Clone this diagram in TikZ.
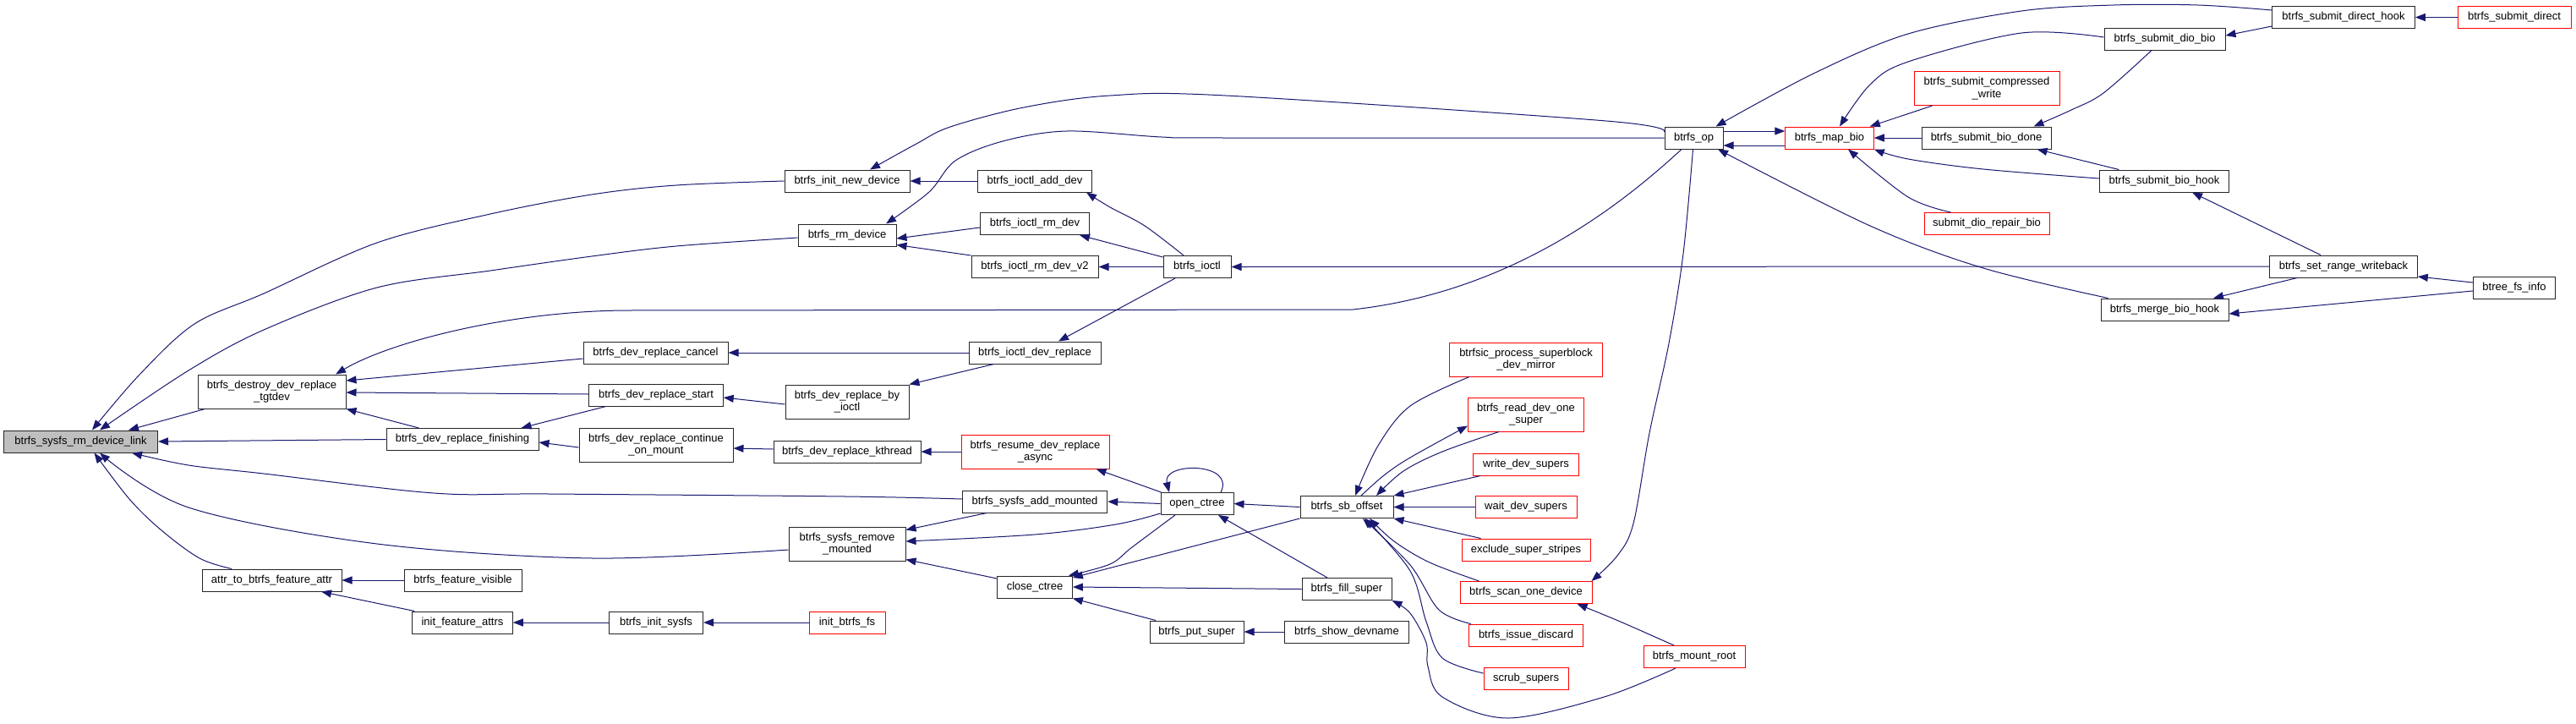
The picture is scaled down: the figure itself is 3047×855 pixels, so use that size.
\documentclass[tikz,border=0pt]{standalone}
\usepackage{fontspec}
\setmainfont{Liberation Sans}
\usetikzlibrary{arrows.meta}
\definecolor{edgeblue}{HTML}{191970}
\newcommand\dfont{\fontsize{13}{14.5}\selectfont}
\tikzset{
  fn/.style={draw=black!85, line width=1pt, inner sep=0pt, font=\dfont, align=center, fill=white},
  trunc/.style={fn, draw=red},
  mainfn/.style={fn, fill=black!25},
  e/.style={draw=edgeblue, line width=1pt, -{Triangle[length=12pt,width=9pt]}},
  sm/.style={smooth, tension=0.55},
}
\newcommand\fnode[7]{\node[#1, minimum width=#5pt, minimum height=#6pt] (#2) at (#3,#4) {#7};}
\begin{document}
\begin{tikzpicture}[x=1pt,y=-1pt]
\useasboundingbox (0,0) rectangle (3047,855);
\fill[white] (0,0) rectangle (3047,855);
% nodes
\fnode{mainfn}{M}{95.5}{522}{182}{26}{btrfs\_sysfs\_rm\_device\_link}
\fnode{fn}{D}{321.5}{463}{175}{40}{btrfs\_destroy\_dev\_replace\\\_tgtdev}
\fnode{fn}{F}{547}{519.5}{180}{26}{btrfs\_dev\_replace\_finishing}
\fnode{fn}{ATF}{321.5}{686}{165}{26}{attr\_to\_btrfs\_feature\_attr}
\fnode{fn}{FV}{547.5}{686}{139}{26}{btrfs\_feature\_visible}
\fnode{fn}{IFA}{547}{736}{118.5}{26}{init\_feature\_attrs}
\fnode{fn}{DRC}{775.5}{417}{171}{26}{btrfs\_dev\_replace\_cancel}
\fnode{fn}{DRS}{776}{467}{158.5}{26}{btrfs\_dev\_replace\_start}
\fnode{fn}{DRCM}{776}{526}{182}{40}{btrfs\_dev\_replace\_continue\\\_on\_mount}
\fnode{fn}{IS}{776}{736}{111}{26}{btrfs\_init\_sysfs}
\fnode{fn}{IND}{1002}{214}{148}{26}{btrfs\_init\_new\_device}
\fnode{fn}{RMD}{1002}{278}{116}{26}{btrfs\_rm\_device}
\fnode{fn}{DRBI}{1002}{475}{146}{40}{btrfs\_dev\_replace\_by\\\_ioctl}
\fnode{fn}{DRK}{1002}{534}{174}{26}{btrfs\_dev\_replace\_kthread}
\fnode{fn}{SRM}{1002}{643}{138}{40}{btrfs\_sysfs\_remove\\\_mounted}
\fnode{trunc}{IBF}{1002}{736}{90}{26}{init\_btrfs\_fs}
\fnode{fn}{IAD}{1224}{214}{135}{26}{btrfs\_ioctl\_add\_dev}
\fnode{fn}{IRD}{1224}{264.5}{129}{26}{btrfs\_ioctl\_rm\_dev}
\fnode{fn}{IRD2}{1224}{315.5}{150}{26}{btrfs\_ioctl\_rm\_dev\_v2}
\fnode{fn}{IDR}{1224}{417}{156}{26}{btrfs\_ioctl\_dev\_replace}
\fnode{trunc}{RDRA}{1224.5}{534}{175}{40}{btrfs\_resume\_dev\_replace\\\_async}
\fnode{fn}{SAM}{1224}{593}{171.5}{26}{btrfs\_sysfs\_add\_mounted}
\fnode{fn}{CC}{1224}{694}{88.7}{26}{close\_ctree}
\fnode{fn}{IOC}{1416}{315.5}{80}{26}{btrfs\_ioctl}
\fnode{fn}{OC}{1416}{595.5}{86}{26}{open\_ctree}
\fnode{fn}{PS}{1415.5}{747}{111}{26}{btrfs\_put\_super}
\fnode{fn}{SBO}{1593}{599.5}{110}{26}{btrfs\_sb\_offset}
\fnode{fn}{FS}{1593}{696.5}{106}{26}{btrfs\_fill\_super}
\fnode{fn}{SD}{1593}{747}{147}{26}{btrfs\_show\_devname}
\fnode{trunc}{PSB}{1805}{425}{181}{40}{btrfsic\_process\_superblock\\\_dev\_mirror}
\fnode{trunc}{RDOS}{1805}{490}{137}{40}{btrfs\_read\_dev\_one\\\_super}
\fnode{trunc}{WDS}{1805}{549}{124.6}{26}{write\_dev\_supers}
\fnode{trunc}{WTDS}{1805}{599.5}{120}{26}{wait\_dev\_supers}
\fnode{trunc}{ESS}{1805}{650}{152}{26}{exclude\_super\_stripes}
\fnode{trunc}{SOD}{1805}{700.5}{156}{26}{btrfs\_scan\_one\_device}
\fnode{trunc}{IDI}{1805}{751}{135.5}{26}{btrfs\_issue\_discard}
\fnode{trunc}{SCS}{1805}{802}{100}{26}{scrub\_supers}
\fnode{trunc}{MR}{2004}{776.5}{120}{26}{btrfs\_mount\_root}
\fnode{fn}{OP}{2003.5}{163}{69}{26}{btrfs\_op}
\fnode{trunc}{MB}{2164}{163}{104.5}{26}{btrfs\_map\_bio}
\fnode{trunc}{SCW}{2350}{104.5}{172}{40}{btrfs\_submit\_compressed\\\_write}
\fnode{fn}{SBD}{2349.5}{163}{153}{26}{btrfs\_submit\_bio\_done}
\fnode{trunc}{SDRB}{2350}{264.5}{148}{26}{submit\_dio\_repair\_bio}
\fnode{fn}{SDB}{2560.5}{46}{143}{26}{btrfs\_submit\_dio\_bio}
\fnode{fn}{SBH}{2560}{214}{153.5}{26}{btrfs\_submit\_bio\_hook}
\fnode{fn}{MBH}{2560.5}{366}{151}{26}{btrfs\_merge\_bio\_hook}
\fnode{fn}{SDH}{2772}{20.5}{168.6}{26}{btrfs\_submit\_direct\_hook}
\fnode{trunc}{SDI}{2974}{20.5}{134}{26}{btrfs\_submit\_direct}
\fnode{fn}{SRW}{2772}{315}{174.6}{26}{btrfs\_set\_range\_writeback}
\fnode{fn}{BFI}{2974}{340.5}{97.5}{26}{btree\_fs\_info}
% edges into main node
\draw[e] plot[sm] coordinates {(IND.west) (800,219) (700,230) (580,253) (446,287) (312,347) (230,383) (165,443) ([xshift=13.5pt]M.north)};
\draw[e] plot[sm] coordinates {([yshift=-3pt]RMD.west) (800,291) (700,303) (580,320) (446,340) (312,390) (223,438) ([xshift=22.5pt]M.north)};
\draw[e] ([xshift=9pt]D.south west) -- ([xshift=56.5pt]M.north);
\draw[e] (F.west) -- (M.east);
\draw[e] plot[sm] coordinates {([yshift=3pt]SAM.west) (1000,587) (650,584) (513,583) (312,560) (223,550) ([xshift=60.5pt]M.south)};
\draw[e] plot[sm] coordinates {([yshift=-7pt]SRM.west) (701,660) (446,643) (223,600) ([xshift=22.5pt]M.south)};
\draw[e] plot[sm] coordinates {([xshift=-47.5pt]ATF.north) (236,660) (191,627) (153,590) ([xshift=16pt]M.south)};
% edges into destroy
\draw[e] ([xshift=-14.5pt]OP.south) .. controls (1920,240) and (1790,345) .. (1600,366) -- (740,367) .. controls (600,368) and (460,405) .. ([xshift=75.5pt]D.north);
\draw[e] ([yshift=-7pt]DRC.west) -- ([yshift=13pt]D.east);
\draw[e] ([yshift=1pt]DRS.west) -- ([yshift=-1pt]D.east);
\draw[e] ([xshift=-51.5pt]F.north) -- (D.south east);
\draw[e] ([xshift=20.5pt]DRS.south west) -- ([xshift=-21pt]F.north east);
\draw[e] ([yshift=-3pt]DRCM.west) -- ([yshift=-3.5pt]F.east);
% middle
\draw[e] (IAD.west) -- (IND.east);
\draw[e] plot[sm] coordinates {([yshift=7pt]OP.west) (1900,143) (1450,113) (1313,113) (1211,127) (1124,150) (1084,170) ([xshift=27pt]IND.north)};
\draw[e] plot[sm] coordinates {(OP.west) (1450,163) (1374,162) (1262,155) (1186,167) (1130,190) (1099,227) ([xshift=46pt]RMD.north)};
\draw[e] ([yshift=-4.5pt]IRD.west) -- ([yshift=-4pt]RMD.east);
\draw[e] (IRD2.north west) -- ([yshift=2pt]RMD.south east);
\draw[e] plot[sm] coordinates {([xshift=-16pt]IOC.north) (1354,267) (1313,245) ([xshift=-7pt]IAD.south east)};
\draw[e] ([yshift=-2pt]IOC.north west) -- ([xshift=-12pt]IRD.south east);
\draw[e] (IOC.west) -- (IRD2.east);
\draw[e] ([xshift=-26pt]IOC.south) -- ([xshift=28pt]IDR.north);
\draw[e] (IDR.west) -- (DRC.east);
\draw[e] ([xshift=30pt]IDR.south west) -- (DRBI.north east);
\draw[e] ([yshift=-3pt]DRBI.west) -- ([yshift=-3pt]DRS.east);
\draw[e] ([yshift=3pt]DRK.west) -- ([yshift=-4pt]DRCM.east);
\draw[e] (RDRA.west) -- (DRK.east);
\draw[e] ([xshift=1pt]OC.north west) -- ([xshift=72pt]RDRA.south);
\draw[e] (OC.west) -- (SAM.east);
\draw[e] ([xshift=28pt]OC.north) .. controls (1462,546) and (1374,546) .. ([xshift=-33pt]OC.north);
\draw[e] (SBO.west) -- (OC.east);
\draw[e] ([xshift=29.5pt]SAM.south west) -- ([yshift=-4pt]SRM.north east);
\draw[e] plot[sm] coordinates {([yshift=-11.5pt]OC.west) (1320,620) (1224,632) ([yshift=3pt]SRM.east)};
\draw[e] ([yshift=10pt]CC.west) -- ([yshift=2pt]SRM.south east);
\draw[e] plot[sm] coordinates {([xshift=-26pt]OC.south) (1339,647) (1313,667) ([xshift=40pt]CC.north)};
\draw[e] (SBO.south west) -- ([yshift=11pt]CC.east);
\draw[e] (FS.west) -- (CC.east);
\draw[e] ([xshift=7.5pt]PS.north west) -- (CC.south east);
\draw[e] ([xshift=-23pt]FS.north) -- ([xshift=25pt]OC.south);
\draw[e] (SD.west) -- (PS.east);
\draw[e] (FV.west) -- (ATF.east);
\draw[e] ([xshift=3pt]IFA.north west) -- ([xshift=-24.5pt]ATF.south east);
\draw[e] (IS.west) -- (IFA.east);
\draw[e] (IBF.west) -- (IS.east);
\draw[e] (SRW.west) -- (IOC.east);
% sb_offset callers
\draw[e] plot[sm] coordinates {([xshift=24pt]PSB.south west) (1668,480) (1630,527) ([xshift=10pt]SBO.north)};
\draw[e] plot[sm] coordinates {([xshift=17pt]SBO.north) (1637,562) (1668,541) ([yshift=-13.5pt]RDOS.west)};
\draw[e] plot[sm] coordinates {([xshift=-32pt]RDOS.south) (1706,534) (1660,557) ([xshift=35pt]SBO.north)};
\draw[e] ([xshift=9pt]WDS.south west) -- (SBO.north east);
\draw[e] (WTDS.west) -- (SBO.east);
\draw[e] ([xshift=23pt]ESS.north west) -- (SBO.south east);
\draw[e] plot[sm] coordinates {([xshift=23pt]SOD.north west) (1691,665) (1649,640) ([xshift=27pt]SBO.south)};
\draw[e] plot[sm] coordinates {([xshift=3pt]IDI.north west) (1702,721) (1668,668) ([xshift=19pt]SBO.south)};
\draw[e] plot[sm] coordinates {([yshift=6pt]SCS.west) (1706,778) (1687,735) (1668,675) ([xshift=22pt]SBO.south)};
\draw[e] plot[sm] coordinates {([xshift=-22pt]MR.south) (1897.5,824) (1783,849) (1706,824) (1689,788) (1687,760) (1668,725) (FS.south east)};
\draw[e] plot[sm] coordinates {([xshift=-24pt]MR.north) (1916.6,735) ([xshift=-18pt]SOD.south east)};
\draw[e] plot[sm] coordinates {([xshift=-1pt]OP.south) (1991,300) (1974,406) (1951,512) (1932,619) (1913,657) ([xshift=-1pt]SOD.north east)};
% right part
\draw[e] plot[sm] coordinates {([yshift=8.5pt]SDH.west) (2600,6) (2500,6) (2391,13) (2257,40) (2145,87) ([xshift=26pt]OP.north)};
\draw[e] ([yshift=-9pt]MB.west) -- ([yshift=-9pt]OP.east);
\draw[e] ([yshift=8pt]OP.east) -- ([yshift=8pt]MB.west);
\draw[e] plot[sm] coordinates {([xshift=9pt]MBH.north west) (2346,317) (2212,267) ([xshift=28.5pt]OP.south)};
\draw[e] plot[sm] coordinates {([yshift=2pt]SDB.west) (2391,39) (2257,73) (2212,100) ([xshift=12pt]MB.north)};
\draw[e] ([xshift=22pt]SCW.south west) -- ([xshift=-5pt]MB.north east);
\draw[e] (SBD.west) -- (MB.east);
\draw[e] plot[sm] coordinates {([yshift=3pt]SBH.west) (2346,200) (2257,188) (MB.south east)};
\draw[e] plot[sm] coordinates {([xshift=32pt]SDRB.north west) (2257,233) ([xshift=22pt]MB.south)};
\draw[e] plot[sm] coordinates {([xshift=-15.5pt]SDB.south) (2488,110) (2450,130) ([xshift=56pt]SBD.north)};
\draw[e] ([xshift=23.5pt]SBH.north west) -- ([xshift=-17pt]SBD.south east);
\draw[e] ([yshift=-10.5pt]SDH.west) -- ([yshift=4pt]SDB.east);
\draw[e] (SDI.west) -- (SDH.east);
\draw[e] ([xshift=-27pt]SRW.north) -- ([xshift=33pt]SBH.south);
\draw[e] ([yshift=6.5pt]BFI.west) -- ([yshift=-12pt]SRW.east);
\draw[e] ([xshift=33pt]SRW.south west) -- ([xshift=-18.5pt]MBH.north east);
\draw[e] ([yshift=-3.5pt]BFI.west) -- ([yshift=-5pt]MBH.east);
\end{tikzpicture}
\end{document}
